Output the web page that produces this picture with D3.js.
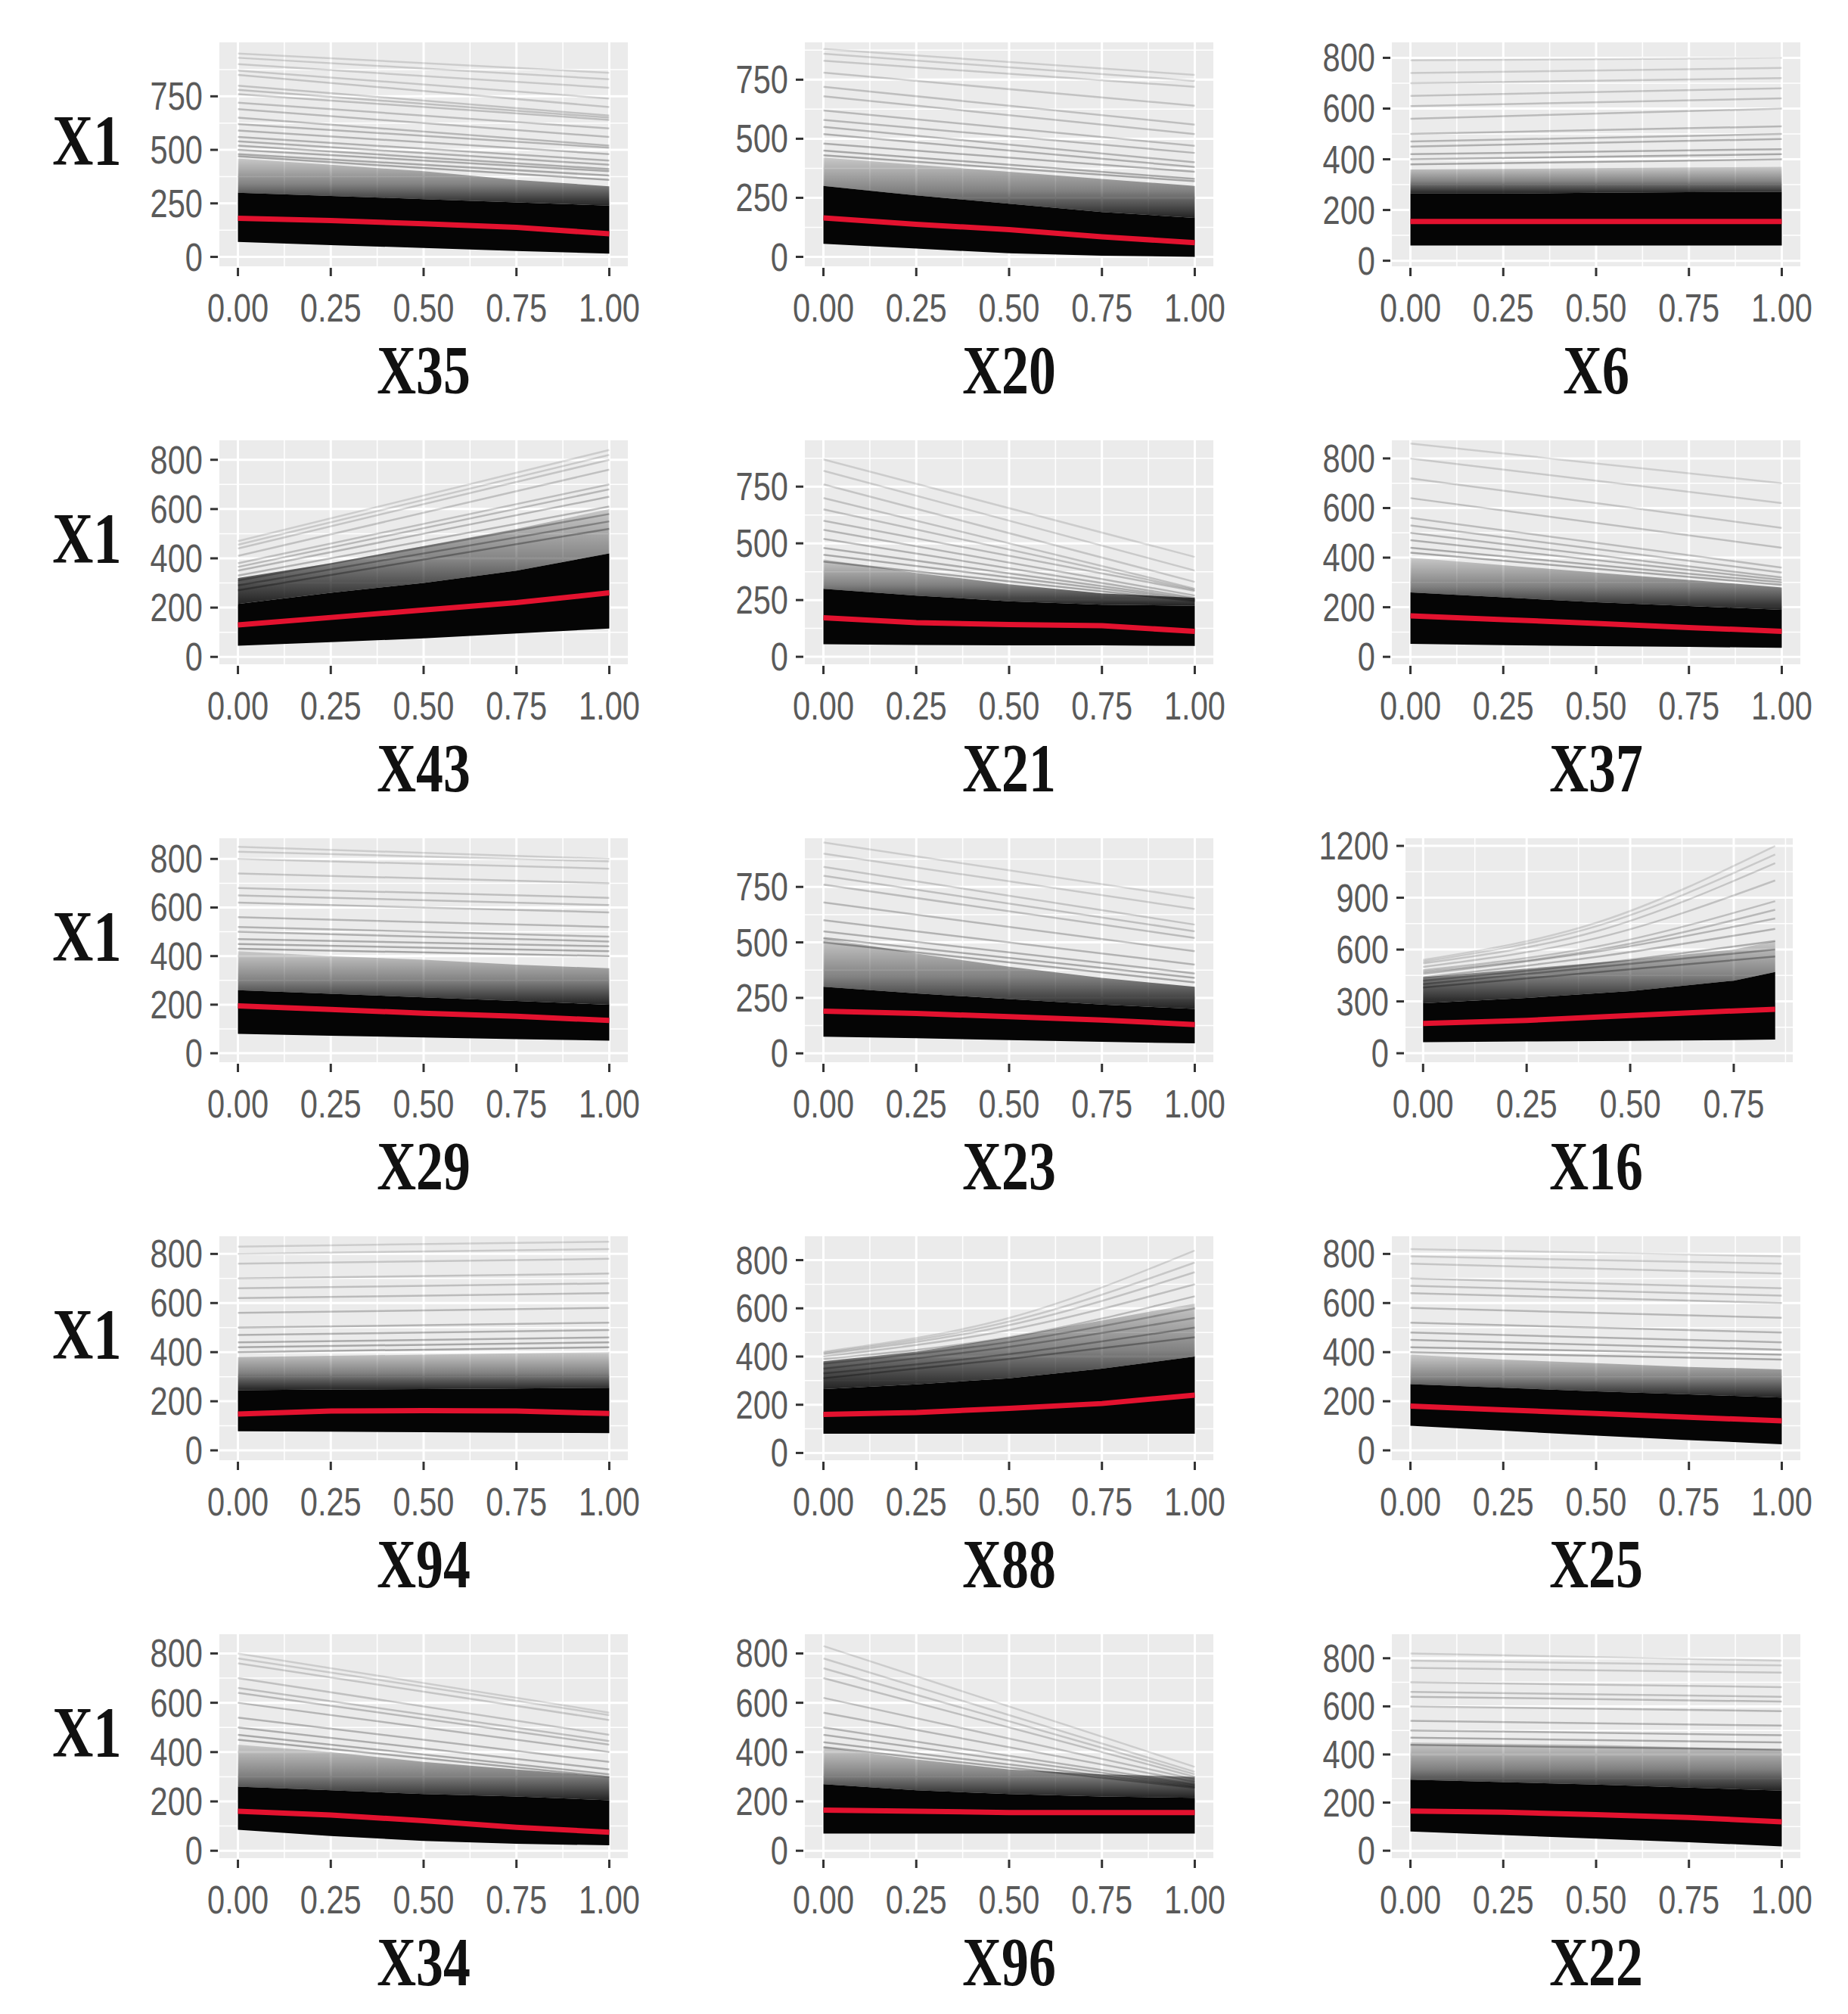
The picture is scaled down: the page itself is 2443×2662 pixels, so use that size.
<!DOCTYPE html>
<html>
<head>
<meta charset="utf-8">
<script src="https://cdn.jsdelivr.net/npm/d3@7"></script>
<style>
  html, body { margin: 0; padding: 0; background: #fff; }
  svg { display: block; }
</style>
</head>
<body>
<svg id="chart" width="2443" height="2662"></svg>
<script>
// feature shown in each panel, row by row
const features = ["X35", "X20", "X6", "X43", "X21", "X37", "X29", "X23", "X16", "X94", "X88", "X25", "X34", "X96", "X22"];

// last x value of the ICE grid (X16 stops before 1)
const xMax = [1, 1, 1, 1, 1, 1, 1, 1, 0.85, 1, 1, 1, 1, 1, 1];

// y limits of every panel (with ggplot padding)
const yDomains = [
  [-44, 1002], [-40, 908], [-22, 861],
  [-30, 879], [-33, 954], [-30, 873],
  [-37, 885], [-40, 969], [-52, 1244],
  [-40, 872], [-30, 899], [-40, 872],
  [-30, 878], [-30, 878], [-31, 900]
];

const yTickVals = [
  [0, 250, 500, 750], [0, 250, 500, 750], [0, 200, 400, 600, 800],
  [0, 200, 400, 600, 800], [0, 250, 500, 750], [0, 200, 400, 600, 800],
  [0, 200, 400, 600, 800], [0, 250, 500, 750], [0, 300, 600, 900, 1200],
  [0, 200, 400, 600, 800], [0, 200, 400, 600, 800], [0, 200, 400, 600, 800],
  [0, 200, 400, 600, 800], [0, 200, 400, 600, 800], [0, 200, 400, 600, 800]
];

const xTickVals = [0, 0.25, 0.5, 0.75, 1];

// red average curve, read at x = 0, .25, .5, .75, end
const pdValues = [
  [180, 170, 155, 138, 108], [165, 138, 115, 85, 60], [155, 155, 155, 155, 155],
  [130, 160, 190, 220, 260], [172, 150, 142, 137, 112], [165, 150, 135, 118, 103],
  [195, 180, 165, 152, 135], [190, 180, 165, 150, 130], [172, 190, 218, 245, 255],
  [148, 160, 162, 160, 150], [160, 168, 185, 205, 240], [180, 165, 150, 135, 120],
  [160, 145, 122, 95, 75], [165, 160, 155, 155, 155], [165, 160, 150, 138, 120]
];

// solid black mass of curves: lower and upper edge
const bandLow = [
  [70, 55, 42, 28, 15], [55, 35, 15, 5, 0], [60, 60, 60, 60, 60],
  [45, 60, 75, 95, 115], [55, 52, 50, 50, 48], [52, 47, 43, 40, 36],
  [80, 72, 65, 58, 52], [75, 68, 60, 52, 45], [64, 68, 72, 76, 79],
  [78, 76, 74, 72, 70], [80, 80, 80, 80, 80], [100, 80, 60, 42, 25],
  [85, 60, 40, 28, 22], [70, 70, 70, 70, 70], [80, 65, 50, 35, 18]
];
const bandHigh = [
  [300, 285, 270, 255, 240], [300, 260, 225, 190, 165], [265, 265, 268, 270, 272],
  [215, 260, 300, 350, 420], [300, 270, 245, 230, 225], [260, 240, 220, 205, 190],
  [260, 245, 230, 215, 200], [300, 270, 245, 220, 200], [290, 320, 360, 420, 470],
  [245, 248, 250, 252, 255], [265, 285, 310, 350, 400], [270, 255, 240, 228, 215],
  [260, 245, 230, 220, 205], [270, 245, 230, 220, 215], [295, 285, 275, 262, 250]
];
// top of the dark grey fringe above the black mass
const haloHigh = [
  [460, 430, 400, 360, 330], [420, 390, 360, 330, 300], [360, 362, 365, 368, 370],
  [320, 380, 450, 520, 600], [430, 370, 320, 280, 260], [400, 370, 340, 310, 280],
  [420, 400, 385, 365, 350], [520, 450, 390, 340, 300], [440, 490, 540, 600, 650],
  [380, 385, 390, 395, 400], [380, 420, 480, 550, 620], [390, 370, 355, 340, 330],
  [430, 400, 360, 330, 300], [420, 370, 330, 310, 300], [450, 445, 440, 430, 420]
];

// the sparse individual curves above the mass: [start, end] or [start, middle, end]
const iceLines = [
  [[950, 860], [930, 830], [900, 790], [870, 740], [850, 700], [800, 660], [780, 650], [760, 640],
   [720, 600], [690, 560], [650, 520], [620, 510], [590, 480], [560, 450], [540, 430], [520, 410],
   [500, 400], [480, 380], [470, 360]],
  [[880, 770], [860, 745], [830, 720], [780, 640], [720, 560], [680, 520], [620, 470], [580, 440],
   [550, 400], [520, 380], [480, 360], [450, 330], [430, 320]],
  [[790, 800], [740, 760], [700, 720], [650, 680], [610, 640], [560, 600], [500, 530], [470, 500],
   [450, 480], [420, 440], [400, 420], [380, 400]],
  [[470, 840], [455, 820], [440, 800], [410, 760], [380, 700], [365, 680], [350, 650], [330, 610],
   [310, 580], [290, 550], [270, 520]],
  [[870, 440], [820, 380], [760, 330], [700, 300], [650, 295], [600, 290], [560, 270], [520, 260],
   [480, 255], [450, 250], [420, 245]],
  [[860, 700], [800, 620], [720, 520], [640, 440], [560, 360], [530, 340], [500, 320], [470, 310],
   [440, 300], [420, 290]],
  [[850, 800], [830, 790], [800, 760], [740, 700], [680, 640], [650, 610], [620, 580], [560, 520],
   [520, 480], [500, 460], [470, 440], [450, 420], [430, 400]],
  [[950, 700], [900, 650], [840, 580], [800, 550], [760, 520], [680, 460], [600, 400], [550, 360],
   [520, 340], [500, 320]],
  [[540, 760, 1200], [530, 740, 1150], [520, 710, 1100], [500, 670, 1000], [480, 620, 880],
   [470, 600, 830], [460, 590, 780], [440, 560, 720], [420, 520, 650], [400, 500, 600],
   [380, 470, 560]],
  [[830, 850], [800, 820], [760, 780], [700, 720], [660, 680], [620, 640], [560, 580], [500, 520],
   [470, 490], [440, 460], [420, 440], [400, 420]],
  [[420, 560, 840], [415, 545, 790], [410, 530, 750], [400, 510, 700], [390, 480, 650],
   [370, 460, 600], [350, 440, 560], [330, 410, 520], [310, 390, 480]],
  [[820, 790], [790, 760], [760, 720], [700, 660], [670, 630], [640, 600], [580, 540], [520, 480],
   [480, 440], [450, 410], [420, 390], [400, 370]],
  [[800, 560], [780, 550], [760, 530], [700, 470], [660, 445], [640, 430], [600, 400], [540, 360],
   [500, 330], [470, 310], [450, 300]],
  [[830, 340], [780, 320], [740, 310], [700, 300], [620, 290], [560, 280], [500, 270], [470, 265],
   [440, 260], [420, 255]],
  [[820, 790], [790, 770], [760, 740], [700, 680], [660, 640], [640, 620], [600, 580], [540, 520],
   [500, 480], [470, 450], [440, 420]]
];

const svg = d3.select("#chart");

// layout of the 5 x 3 grid
const colLeft = [290, 1064, 1840];
const panelWidth = 540;
const rowTop = [56, 582, 1108, 1634, 2160];
const panelHeight = 296;

const defs = svg.append("defs");
const grad = defs.append("linearGradient")
  .attr("id", "haloGrad")
  .attr("x1", 0).attr("y1", 1).attr("x2", 0).attr("y2", 0);
grad.append("stop").attr("offset", "0%").attr("stop-color", "#000").attr("stop-opacity", 0.85);
grad.append("stop").attr("offset", "45%").attr("stop-color", "#000").attr("stop-opacity", 0.45);
grad.append("stop").attr("offset", "100%").attr("stop-color", "#000").attr("stop-opacity", 0.15);

const tickFont = "'Liberation Sans', Arial, sans-serif";
const titleFont = "'Liberation Serif', 'Times New Roman', serif";

function squeezed(parent, x, y, txt, size, anchor, family, weight, color, sx) {
  return parent.append("text")
    .attr("transform", `translate(${x},${y}) scale(${sx},1)`)
    .attr("text-anchor", anchor)
    .style("font-family", family)
    .style("font-size", size + "px")
    .style("font-weight", weight)
    .attr("fill", color)
    .text(txt);
}

features.forEach((name, i) => {
  const row = Math.floor(i / 3);
  const col = i % 3;
  let left = colLeft[col];
  let right = left + panelWidth;
  if (xMax[i] < 1) { left += 18; right -= 10; } // wider y labels squeeze this panel
  const top = rowTop[row];
  const bottom = top + panelHeight;

  const pad = xMax[i] * 0.05;
  const x = d3.scaleLinear().domain([-pad, xMax[i] + pad]).range([left, right]);
  const y = d3.scaleLinear().domain(yDomains[i]).range([bottom, top]);

  const grid = xTickVals.map(v => Math.min(v, xMax[i]));
  const xt = xTickVals.filter(v => v <= xMax[i]);
  const yt = yTickVals[i];

  const g = svg.append("g");

  g.append("rect")
    .attr("x", left).attr("y", top)
    .attr("width", right - left).attr("height", bottom - top)
    .attr("fill", "#ebebeb");

  // minor grid halfway between major ticks
  const yStep = yt[1] - yt[0];
  const yMinor = d3.range(yt[0] - yStep / 2, yDomains[i][1], yStep).filter(v => v > yDomains[i][0]);
  const xMinor = d3.range(-0.125, xMax[i] + pad, 0.25).filter(v => v > -pad);
  g.selectAll(".ymin").data(yMinor).enter().append("line")
    .attr("x1", left).attr("x2", right)
    .attr("y1", d => y(d)).attr("y2", d => y(d))
    .attr("stroke", "#fff").attr("stroke-width", 1.5);
  g.selectAll(".xmin").data(xMinor).enter().append("line")
    .attr("y1", top).attr("y2", bottom)
    .attr("x1", d => x(d)).attr("x2", d => x(d))
    .attr("stroke", "#fff").attr("stroke-width", 1.5);
  g.selectAll(".ymaj").data(yt).enter().append("line")
    .attr("x1", left).attr("x2", right)
    .attr("y1", d => y(d)).attr("y2", d => y(d))
    .attr("stroke", "#fff").attr("stroke-width", 3);
  g.selectAll(".xmaj").data(xt).enter().append("line")
    .attr("y1", top).attr("y2", bottom)
    .attr("x1", d => x(d)).attr("x2", d => x(d))
    .attr("stroke", "#fff").attr("stroke-width", 3);

  // grey fringe above the black mass
  const halo = d3.area()
    .x((d, k) => x(grid[k]))
    .y0((d, k) => y(bandHigh[i][k]))
    .y1(d => y(d));
  g.append("path")
    .datum(haloHigh[i])
    .attr("d", halo)
    .attr("fill", "url(#haloGrad)");

  // individual ICE curves
  const lineGen = d3.line()
    .x(d => x(d[0]))
    .y(d => y(d[1]))
    .curve(d3.curveMonotoneX);
  const nLines = iceLines[i].length;
  iceLines[i].forEach((vals, k) => {
    const pts = vals.map((v, j) => [xMax[i] * j / (vals.length - 1), v]);
    g.append("path")
      .datum(pts)
      .attr("d", lineGen)
      .attr("fill", "none")
      .attr("stroke", "#000")
      .attr("stroke-opacity", 0.13 + 0.17 * k / (nLines - 1))
      .attr("stroke-width", 2.5);
  });

  // black mass
  const band = d3.area()
    .x((d, k) => x(grid[k]))
    .y0((d, k) => y(bandLow[i][k]))
    .y1(d => y(d));
  g.append("path")
    .datum(bandHigh[i])
    .attr("d", band)
    .attr("fill", "#050505");

  // average (partial dependence) curve
  const pdLine = d3.line()
    .x((d, k) => x(grid[k]))
    .y(d => y(d));
  g.append("path")
    .datum(pdValues[i])
    .attr("d", pdLine)
    .attr("fill", "none")
    .attr("stroke", "#e3122f")
    .attr("stroke-width", 7)
    .attr("stroke-linejoin", "round");

  // axes
  yt.forEach(v => {
    g.append("line")
      .attr("x1", left - 12).attr("x2", left - 2)
      .attr("y1", y(v)).attr("y2", y(v))
      .attr("stroke", "#333").attr("stroke-width", 3);
    squeezed(g, left - 22, y(v) + 18, String(v), 52, "end", tickFont, "normal", "#5a5a5a", 0.8);
  });
  xt.forEach(v => {
    g.append("line")
      .attr("x1", x(v)).attr("x2", x(v))
      .attr("y1", bottom + 2).attr("y2", bottom + 13)
      .attr("stroke", "#333").attr("stroke-width", 3);
    squeezed(g, x(v), bottom + 73, v.toFixed(2), 52, "middle", tickFont, "normal", "#5a5a5a", 0.8);
  });

  squeezed(g, (colLeft[col] + colLeft[col] + panelWidth) / 2, bottom + 168, name, 92, "middle", titleFont, "bold", "#111", 0.78);

  if (col === 0) {
    squeezed(g, 115, (top + bottom) / 2 + 14, "X1", 96, "middle", titleFont, "bold", "#111", 0.78);
  }
});
</script>
</body>
</html>
